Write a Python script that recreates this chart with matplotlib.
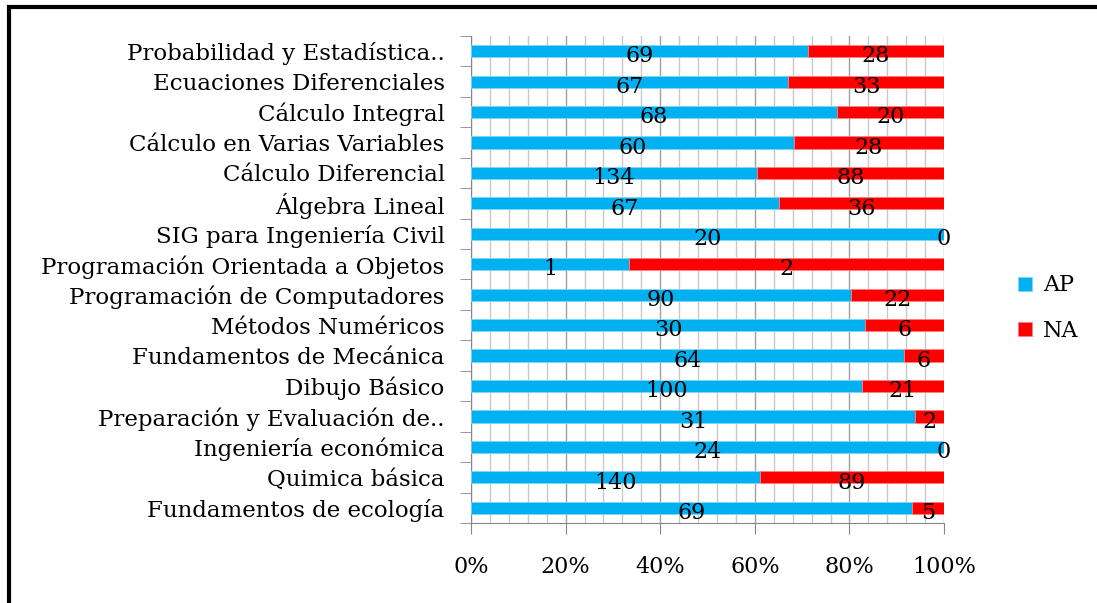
import numpy as np
import matplotlib.pyplot as plt
from matplotlib.patches import Rectangle
from matplotlib.ticker import MultipleLocator, FuncFormatter

plt.rcParams['font.family'] = ['DejaVu Serif', 'Liberation Serif']

# datos
materias = [
    "Probabilidad y Estadística..",
    "Ecuaciones Diferenciales",
    "Cálculo Integral",
    "Cálculo en Varias Variables",
    "Cálculo Diferencial",
    "Álgebra Lineal",
    "SIG para Ingeniería Civil",
    "Programación Orientada a Objetos",
    "Programación de Computadores",
    "Métodos Numéricos",
    "Fundamentos de Mecánica",
    "Dibujo Básico",
    "Preparación y Evaluación de..",
    "Ingeniería económica",
    "Quimica básica",
    "Fundamentos de ecología",
]
ap = np.array([69, 67, 68, 60, 134, 67, 20, 1, 90, 30, 64, 100, 31, 24, 140, 69])
na = np.array([28, 33, 20, 28, 88, 36, 0, 2, 22, 6, 6, 21, 2, 0, 89, 5])

col_ap = "#00B0F0"
col_na = "#FF0000"

total = ap + na
ap_pct = ap / total
na_pct = na / total
y = np.arange(len(materias))

fig = plt.figure(figsize=(10.97, 6.03), dpi=100)
ax = fig.add_axes([0.4294, 0.1327, 0.4312, 0.8076])

ax.barh(y, ap_pct, height=0.4, color=col_ap, edgecolor="#7fd8f7", linewidth=0.6, label="AP", zorder=3)
ax.barh(y, na_pct, left=ap_pct, height=0.4, color=col_na, edgecolor="#ff8080", linewidth=0.6, label="NA", zorder=3)

# etiquetas de datos centradas en cada segmento
for i in range(len(materias)):
    ax.text(ap_pct[i] / 2, y[i] + 0.17, str(ap[i]), ha="center", va="center", fontsize=16, zorder=4)
    ax.text(ap_pct[i] + na_pct[i] / 2, y[i] + 0.17, str(na[i]), ha="center", va="center", fontsize=16, zorder=4)

ax.set_xlim(0, 1)
ax.set_ylim(len(materias) - 0.5, -0.5)
ax.xaxis.set_major_locator(MultipleLocator(0.2))
ax.xaxis.set_minor_locator(MultipleLocator(0.04))
ax.xaxis.set_major_formatter(FuncFormatter(lambda v, p: f"{v*100:.0f}%"))
ax.grid(axis="x", which="minor", color="#c8c8c8", linewidth=1, zorder=0)
ax.grid(axis="x", which="major", color="#a0a0a0", linewidth=1, zorder=0)

ax.set_yticks(y)
ax.set_yticklabels(materias, fontsize=16.5)
ax.set_yticks(np.arange(-0.5, len(materias)), minor=True)
ax.tick_params(axis="y", which="major", length=0, pad=19)
ax.tick_params(axis="y", which="minor", length=8, color="#868686")
ax.tick_params(axis="x", which="major", length=8, color="#868686", labelsize=16, pad=16)
ax.tick_params(axis="x", which="minor", length=0)

for s in ["top", "right"]:
    ax.spines[s].set_visible(False)
ax.spines["left"].set_color("#868686")
ax.spines["bottom"].set_color("#868686")

leg = fig.legend(loc="upper left", bbox_to_anchor=(0.91, 0.578), frameon=False, fontsize=16,
                 handlelength=0.6, handleheight=0.6, handletextpad=0.5, labelspacing=1.05)

# marco del gráfico
fig.patches.append(Rectangle((8.5 / 1097, -0.1), 1.2, 1 - 7.5 / 603 + 0.1, transform=fig.transFigure,
                             fill=False, edgecolor="black", linewidth=3))

fig.savefig("out.png", dpi=100)
